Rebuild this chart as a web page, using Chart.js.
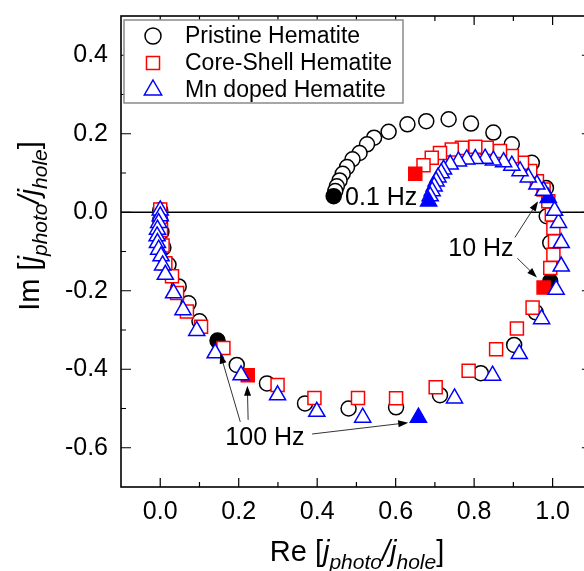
<!DOCTYPE html>
<html>
<head>
<meta charset="utf-8">
<title>IMPS response of hematite photoanodes</title>
<script src="https://cdn.jsdelivr.net/npm/chart.js@4.4.1/dist/chart.umd.min.js"></script>
<style>
  html, body { margin: 0; padding: 0; background: #fff; }
  #chart { display: block; }
</style>
</head>
<body>
<canvas id="chart" width="584" height="571"></canvas>
<script>
/* global Chart */

const FONT = 'Arial, "Liberation Sans", Helvetica, sans-serif';

// ---- Data (high frequency -> 0.1 Hz) ---------------------------------------
const seriesNames = ['Pristine Hematite', 'Core-Shell Hematite', 'Mn doped Hematite'];

const pristineRe = [0.000, 0.000, 0.003, 0.008, 0.021, 0.047, 0.072, 0.100, 0.146, 0.195,
  0.272, 0.369, 0.480, 0.601, 0.713, 0.817, 0.902, 0.957, 0.994, 0.994,
  0.985, 0.983, 0.947, 0.896, 0.849, 0.792, 0.735, 0.678, 0.630, 0.582,
  0.545, 0.527, 0.508, 0.490, 0.476, 0.465, 0.457, 0.450, 0.446, 0.442];
const pristineIm = [0.005, -0.020, -0.050, -0.090, -0.134, -0.189, -0.232, -0.278, -0.327, -0.389,
  -0.436, -0.487, -0.500, -0.497, -0.466, -0.410, -0.338, -0.255, -0.176, -0.078,
  -0.010, 0.062, 0.126, 0.173, 0.203, 0.226, 0.237, 0.232, 0.224, 0.205,
  0.190, 0.173, 0.151, 0.135, 0.115, 0.098, 0.081, 0.066, 0.054, 0.041];
const pristineFilled = [8, 18, 39];

const coreShellRe = [0.000, 0.000, 0.002, 0.006, 0.013, 0.030, 0.043, 0.068, 0.104, 0.161,
  0.223, 0.299, 0.393, 0.504, 0.601, 0.702, 0.786, 0.856, 0.909, 0.949,
  0.977, 0.994, 1.002, 1.006, 1.002, 0.998, 0.989, 0.977, 0.960, 0.943,
  0.922, 0.896, 0.866, 0.832, 0.803, 0.769, 0.743, 0.713, 0.692, 0.671, 0.650];
const coreShellIm = [0.007, -0.015, -0.045, -0.085, -0.130, -0.163, -0.206, -0.253, -0.292, -0.346,
  -0.415, -0.440, -0.473, -0.473, -0.474, -0.446, -0.404, -0.349, -0.296, -0.243,
  -0.192, -0.142, -0.108, -0.074, -0.040, -0.006, 0.028, 0.058, 0.079, 0.105,
  0.126, 0.143, 0.156, 0.164, 0.167, 0.164, 0.160, 0.151, 0.139, 0.120, 0.098];
const coreShellFilled = [10, 20, 40];

const mnDopedRe = [0.000, 0.000, -0.004, -0.007, -0.008, -0.007, -0.004, 0.002, 0.006, 0.013,
  0.034, 0.058, 0.093, 0.140, 0.206, 0.299, 0.399, 0.516, 0.658, 0.750,
  0.847, 0.915, 0.972, 1.009, 1.022, 1.022, 1.015, 1.005, 0.989, 0.977,
  0.960, 0.938, 0.917, 0.896, 0.875, 0.849, 0.828, 0.803, 0.781, 0.760,
  0.739, 0.722, 0.716, 0.708, 0.703, 0.698, 0.693, 0.688, 0.684];
const mnDopedIm = [0.005, -0.010, -0.027, -0.044, -0.061, -0.078, -0.095, -0.112, -0.135, -0.159,
  -0.206, -0.249, -0.302, -0.359, -0.415, -0.466, -0.508, -0.523, -0.523, -0.474,
  -0.416, -0.361, -0.272, -0.197, -0.138, -0.078, -0.027, 0.004, 0.037, 0.055,
  0.071, 0.089, 0.105, 0.119, 0.128, 0.132, 0.137, 0.136, 0.135, 0.130,
  0.122, 0.109, 0.100, 0.089, 0.079, 0.066, 0.054, 0.041, 0.028];
const mnDopedFilled = [18, 28, 48];

// axis ticks; the frame runs to Re = 1.1, just past the cropped right edge
const xTickValues = [0, 0.2, 0.4, 0.6, 0.8, 1.0];
const xMinorValues = [0.1, 0.3, 0.5, 0.7, 0.9];
const yTickValues = [-0.6, -0.4, -0.2, 0, 0.2, 0.4];
const yMinorValues = [-0.5, -0.3, -0.1, 0.1, 0.3];
const xFrameMax = 1.1;

// frequency labels and arrows, in data units
const freqLabels = [
  { text: '0.1 Hz', x: 0.471, y: 0.035 },
  { text: '10 Hz', x: 0.734, y: -0.095 },
  { text: '100 Hz', x: 0.166, y: -0.575 },
];
const freqArrows = [
  [0.904, -0.064, 0.963, 0.028],
  [0.910, -0.117, 0.960, -0.166],
  [0.204, -0.534, 0.153, -0.360],
  [0.224, -0.529, 0.222, -0.442],
  [0.387, -0.565, 0.632, -0.536],
];

// ---- Build datasets --------------------------------------------------------
const toPoints = (re, im) => re.map((x, i) => ({ x, y: im[i] }));

function series(label, re, im, filled, style, color, radius, order) {
  return {
    label,
    data: toPoints(re, im),
    showLine: false,
    pointStyle: style,
    pointRadius: radius,
    pointHoverRadius: radius,
    pointBorderWidth: 1.5,
    borderColor: color,
    pointBorderColor: color,
    pointBackgroundColor: (ctx) => (filled.includes(ctx.dataIndex) ? color : '#fff'),
    order,
  };
}

const datasets = [
  series(seriesNames[0], pristineRe, pristineIm, pristineFilled, 'circle', '#000', 7.5, 3),
  series(seriesNames[1], coreShellRe, coreShellIm, coreShellFilled, 'rect', '#ff0000', 9.2, 2),
  series(seriesNames[2], mnDopedRe, mnDopedIm, mnDopedFilled, 'triangle', '#0000ff', 9.3, 1),
];

// ---- helpers ---------------------------------------------------------------
function drawSymbol(ctx, style, color, x, y, r) {
  ctx.save();
  ctx.strokeStyle = color;
  ctx.fillStyle = '#fff';
  ctx.lineWidth = 1.5;
  ctx.beginPath();
  if (style === 'circle') {
    ctx.arc(x, y, r, 0, Math.PI * 2);
  } else if (style === 'rect') {
    const s = r * Math.SQRT1_2;
    ctx.rect(x - s, y - s, 2 * s, 2 * s);
  } else {
    ctx.moveTo(x, y - r);
    ctx.lineTo(x + r * 0.866, y + r * 0.5);
    ctx.lineTo(x - r * 0.866, y + r * 0.5);
    ctx.closePath();
  }
  ctx.fill();
  ctx.stroke();
  ctx.restore();
}

// "Re [j_photo/j_hole]" style label with italic j and subscripts
function richParts(prefix) {
  return [
    { t: prefix + ' [', f: 'n' },
    { t: 'j', f: 'i' },
    { t: 'photo', f: 's' },
    { t: '/', f: 'i' },
    { t: 'j', f: 'i' },
    { t: 'hole', f: 's' },
    { t: ']', f: 'n' },
  ];
}
function partFont(f) {
  if (f === 'n') return `29px ${FONT}`;
  if (f === 'i') return `italic 29px ${FONT}`;
  return `italic 21px ${FONT}`;
}
function drawRich(ctx, parts, cx, baseY) {
  let total = 0;
  parts.forEach((p) => {
    ctx.font = partFont(p.f);
    p.w = ctx.measureText(p.t).width;
    total += p.w;
  });
  let x = cx - total / 2;
  ctx.textAlign = 'left';
  ctx.textBaseline = 'alphabetic';
  parts.forEach((p) => {
    ctx.font = partFont(p.f);
    ctx.fillText(p.t, x, baseY + (p.f === 's' ? 8 : 0));
    x += p.w;
  });
}

function arrow(ctx, x1, y1, x2, y2) {
  const ang = Math.atan2(y2 - y1, x2 - x1);
  const len = 10;
  const hw = 3.5;
  ctx.beginPath();
  ctx.moveTo(x1, y1);
  ctx.lineTo(x2 - Math.cos(ang) * len * 0.8, y2 - Math.sin(ang) * len * 0.8);
  ctx.stroke();
  ctx.beginPath();
  ctx.moveTo(x2, y2);
  ctx.lineTo(x2 - Math.cos(ang) * len - Math.sin(ang) * hw, y2 - Math.sin(ang) * len + Math.cos(ang) * hw);
  ctx.lineTo(x2 - Math.cos(ang) * len + Math.sin(ang) * hw, y2 - Math.sin(ang) * len - Math.cos(ang) * hw);
  ctx.closePath();
  ctx.fill();
}

// keep the plot box exactly where the figure has it
function noScalePadding(scale) {
  scale.paddingTop = 0;
  scale.paddingBottom = 0;
  scale.paddingLeft = 0;
  scale.paddingRight = 0;
}

// ---- Plugin: frame, inward ticks, zero line, labels, legend, titles --------
const decorations = {
  id: 'decorations',
  beforeDatasetsDraw(chart) {
    const { ctx, chartArea: a, scales } = chart;
    const y0 = scales.y.getPixelForValue(0);
    ctx.save();
    ctx.strokeStyle = '#000';
    ctx.lineWidth = 1.5;
    ctx.beginPath();
    ctx.moveTo(a.left, y0);
    ctx.lineTo(a.right, y0);
    ctx.stroke();
    ctx.restore();
  },
  afterDatasetsDraw(chart) {
    const { ctx, chartArea: a, scales } = chart;
    const xs = scales.x;
    const ys = scales.y;
    const right = xs.getPixelForValue(xFrameMax);
    ctx.save();

    // frame
    ctx.strokeStyle = '#000';
    ctx.lineWidth = 1.6;
    ctx.strokeRect(a.left, a.top, right - a.left, a.bottom - a.top);

    // ticks pointing inward
    ctx.lineWidth = 1.2;
    const tick = (vals, len) => {
      vals.forEach((v) => {
        const px = xs.getPixelForValue(v);
        ctx.beginPath();
        ctx.moveTo(px, a.bottom);
        ctx.lineTo(px, a.bottom - len);
        ctx.moveTo(px, a.top);
        ctx.lineTo(px, a.top + len);
        ctx.stroke();
      });
    };
    const ytick = (vals, len) => {
      vals.forEach((v) => {
        const py = ys.getPixelForValue(v);
        ctx.beginPath();
        ctx.moveTo(a.left, py);
        ctx.lineTo(a.left + len, py);
        ctx.moveTo(right, py);
        ctx.lineTo(right - len, py);
        ctx.stroke();
      });
    };
    tick(xTickValues, 9);
    tick(xMinorValues, 5);
    ytick(yTickValues, 10);
    ytick(yMinorValues, 5);

    // frequency arrows + labels
    ctx.strokeStyle = '#333';
    ctx.fillStyle = '#000';
    ctx.lineWidth = 1;
    freqArrows.forEach(([x1, y1, x2, y2]) => {
      arrow(ctx, xs.getPixelForValue(x1), ys.getPixelForValue(y1),
        xs.getPixelForValue(x2), ys.getPixelForValue(y2));
    });
    ctx.font = `25px ${FONT}`;
    ctx.textAlign = 'left';
    ctx.textBaseline = 'middle';
    freqLabels.forEach((l) => {
      ctx.fillText(l.text, xs.getPixelForValue(l.x), ys.getPixelForValue(l.y));
    });

    // legend
    const lx = a.left + 3;
    const ly = a.top + 4;
    ctx.fillStyle = '#fff';
    ctx.fillRect(lx, ly, 279, 83);
    ctx.strokeStyle = '#8a8a8a';
    ctx.lineWidth = 1.5;
    ctx.strokeRect(lx, ly, 279, 83);
    const rows = [16, 43, 70];
    const styles = [['circle', '#000', 8], ['rect', '#ff0000', 9.2], ['triangle', '#0000ff', 10]];
    ctx.font = `23px ${FONT}`;
    ctx.textBaseline = 'middle';
    datasets.forEach((ds, i) => {
      drawSymbol(ctx, styles[i][0], styles[i][1], lx + 29, ly + rows[i], styles[i][2]);
      ctx.fillStyle = '#000';
      ctx.fillText(ds.label, lx + 61, ly + rows[i] + 1);
    });
    ctx.restore();
  },
  afterDraw(chart) {
    const { ctx } = chart;
    ctx.save();
    ctx.fillStyle = '#000';
    drawRich(ctx, richParts('Re'), 357, 561);
    ctx.translate(39, 226);
    ctx.rotate(-Math.PI / 2);
    drawRich(ctx, richParts('Im'), 0, 0);
    ctx.restore();
  },
};

// ---- Chart -----------------------------------------------------------------
new Chart(document.getElementById('chart'), {
  type: 'scatter',
  data: { datasets },
  options: {
    responsive: false,
    animation: false,
    layout: { autoPadding: false, padding: { top: 16, right: 0, left: 0, bottom: 0 } },
    plugins: { legend: { display: false }, tooltip: { enabled: false } },
    scales: {
      x: {
        type: 'linear',
        min: -0.1,
        max: 1.08,
        grid: { display: false, drawTicks: false },
        border: { display: false },
        afterBuildTicks: (scale) => {
          scale.ticks = xTickValues.map((value) => ({ value }));
        },
        afterFit: (scale) => {
          scale.height = 84;
          noScalePadding(scale);
        },
        ticks: {
          color: '#000',
          padding: 10,
          font: { family: FONT, size: 25 },
          callback: (v) => Number(v).toFixed(1),
        },
      },
      y: {
        type: 'linear',
        min: -0.7,
        max: 0.5,
        grid: { display: false, drawTicks: false },
        border: { display: false },
        afterBuildTicks: (scale) => {
          scale.ticks = yTickValues.map((value) => ({ value }));
        },
        afterFit: (scale) => {
          scale.width = 121;
          noScalePadding(scale);
        },
        ticks: {
          color: '#000',
          padding: 13,
          font: { family: FONT, size: 25 },
          callback: (v) => Number(v).toFixed(1),
        },
      },
    },
  },
  plugins: [decorations],
});
</script>
</body>
</html>
